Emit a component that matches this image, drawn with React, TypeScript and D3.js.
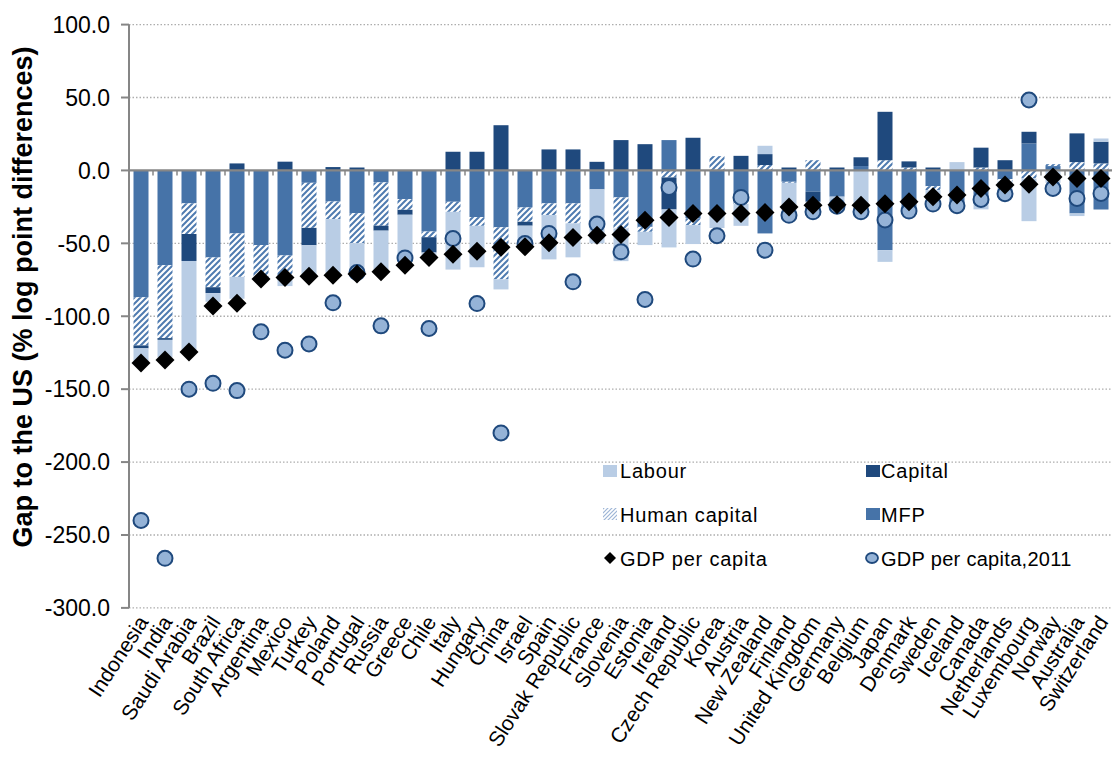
import React from "react";
import * as d3 from "d3";

const countries = ["Indonesia","India","Saudi Arabia","Brazil","South Africa","Argentina","Mexico","Turkey","Poland","Portugal","Russia","Greece","Chile","Italy","Hungary","China","Israel","Spain","Slovak Republic","France","Slovenia","Estonia","Ireland","Czech Republic","Korea","Austria","New Zealand","Finland","United Kingdom","Germany","Belgium","Japan","Denmark","Sweden","Iceland","Canada","Netherlands","Luxembourg","Norway","Australia","Switzerland"];

const labour = [-10,-12,-61,-6,-15,-1,-4,-21,-37.3,-19.5,-27,-31,-3,-39.6,-28.4,-6.9,-14,-30.4,-23.3,-37,-22.4,-9.1,-26,-13,-8.5,-15,5.7,-20,-9.3,-6,-31.8,-8,0,-7,5.7,-4.1,-9.5,-29.3,-8.5,-1.8,2.2];
const capital = [-2,-1.2,-18.5,-4,4.8,0,6,-11.9,2.3,2,-3.4,-3.4,-10.5,12.8,12.8,31,-2.7,14.4,14.4,5.9,20.8,18,-22,22.4,0,10,7.5,2,-6.9,2,6,33.2,4.2,2,0,13.6,7,8,0,19.7,14.9];
const humanCapital = [-33,-50,-21,-20.4,-29.8,-22,-17,-30.9,-12.1,-20.6,-29.7,-7.3,-3.9,-6.9,-6,-35.7,-9.8,-8,-13.7,0,-21.3,-3.4,-4.8,-4.6,9.8,-2,3.7,-0.7,7,0,0,7,2,-2.7,0,2,-1.5,-5.5,1.3,5.7,4.8];
const mfp = [-87,-65,-22.6,-59.7,-43.2,-51.2,-58.3,-8.5,-21.3,-29.3,-8.2,-19.7,-41.9,-21.5,-32,-39,-25.4,-22.6,-22.6,-13,-18.5,-38.7,20.8,-32.9,-31,-21,-43.2,-7.8,-14.6,-18,3,-54.7,-27.5,-10.8,-22.5,-22.6,-6,18.5,3,-29.5,-26.8];
const gdpPerCapita = [-132,-130,-124.5,-93,-91,-74.5,-73.5,-72.5,-71.8,-71,-69.5,-65,-59.7,-57.4,-55.5,-52.7,-52.4,-49.6,-46,-44.4,-43.9,-34.1,-32.2,-29.5,-29.5,-29.5,-28.8,-25,-23.8,-23.5,-23.8,-22.8,-21.5,-18,-16.9,-12.4,-10,-9.4,-4.5,-5.5,-5.5];
const gdpPerCapita2011 = [-240,-266,-150,-146,-151,-110.7,-123.3,-119,-90.8,-70,-106.6,-60,-108.4,-46.7,-91.3,-180,-50.1,-43.2,-76.4,-36.8,-55.8,-88.5,-11.7,-60.8,-44.8,-18.5,-54.7,-30.8,-28.4,-24.5,-28.4,-34,-27.9,-23.1,-24.2,-19.9,-16,48.3,-12.4,-19.2,-15.8];
const yTicks = [100,50,0,-50,-100,-150,-200,-250,-300];

const C_LAB = "#B9CDE5";
const C_CAP = "#1F497D";
const C_MFP = "#4673A8";
const C_HC = "#4F7BB0";
const FONT = "'Liberation Sans', Arial, sans-serif";

export default function App() {
  const W = 1112, H = 761;
  const x = d3.scaleBand().domain(countries).range([129, 1113]).paddingInner(0.375).paddingOuter(0.1875);
  const y = d3.scaleLinear().domain([-300, 100]).range([607.9, 24.6]);
  const step = x.step();
  const bw = x.bandwidth();

  type Seg = { key: string; c: string; y0: number; y1: number; kind: string };
  const bars = countries.map((name, i) => {
    const comps = [
      { kind: "mfp", v: mfp[i] },
      { kind: "hc", v: humanCapital[i] },
      { kind: "cap", v: capital[i] },
      { kind: "lab", v: labour[i] },
    ];
    let pos = 0, neg = 0;
    const segs: Seg[] = [];
    comps.forEach((c) => {
      if (c.v > 0) { segs.push({ key: name + c.kind, c: name, y0: pos, y1: pos + c.v, kind: c.kind }); pos += c.v; }
      else if (c.v < 0) { segs.push({ key: name + c.kind, c: name, y0: neg, y1: neg + c.v, kind: c.kind }); neg += c.v; }
    });
    return segs;
  }).flat();

  const fillFor = (k: string) => k === "mfp" ? C_MFP : k === "cap" ? C_CAP : k === "lab" ? C_LAB : "url(#hatch)";

  const diamond = (cx: number, cy: number, r: number) => `M${cx},${cy - r}L${cx + r},${cy}L${cx},${cy + r}L${cx - r},${cy}Z`;

  return (
    <svg width={W} height={H} style={{ position: "absolute", left: 0, top: 0, background: "#fff" }} fontFamily={FONT}>
      <defs>
        <pattern id="hatch" patternUnits="userSpaceOnUse" width="6" height="6">
          <rect width="6" height="6" fill="#fff" />
          <path d="M-1.5,1.5 l3,-3 M0,6 l6,-6 M4.5,7.5 l3,-3" stroke={C_HC} strokeWidth="2" />
        </pattern>
        <pattern id="hatchL" patternUnits="userSpaceOnUse" width="4" height="4">
          <rect width="4" height="4" fill="#fff" />
          <path d="M-1,1 l2,-2 M0,4 l4,-4 M3,5 l2,-2" stroke="#9DB5D6" strokeWidth="1.2" />
        </pattern>
      </defs>
      {/* gridlines */}
      {yTicks.filter((t) => t !== 0).map((t) => (
        <line key={"g" + t} x1={129} x2={1112} y1={y(t)} y2={y(t)} stroke="#ADADAD" strokeWidth={1.3} strokeDasharray="1.5,2" />
      ))}
      {/* bars */}
      {bars.map((s) => {
        const cx = x(s.c)!;
        const top = y(Math.max(s.y0, s.y1));
        const bot = y(Math.min(s.y0, s.y1));
        return <rect key={s.key} x={cx} y={top} width={bw} height={Math.max(0.8, bot - top)} fill={fillFor(s.kind)} />;
      })}
      {/* y axis */}
      <line x1={129} x2={129} y1={y(100)} y2={y(-300)} stroke="#868686" strokeWidth={2} />
      {yTicks.map((t) => (
        <g key={"t" + t}>
          <line x1={121} x2={129} y1={y(t)} y2={y(t)} stroke="#868686" strokeWidth={2} />
          <text x={110} y={y(t)} dy="0.36em" textAnchor="end" fontSize={23} fill="#000">{t.toFixed(1)}</text>
        </g>
      ))}
      {/* zero axis */}
      <line x1={129} x2={1112} y1={y(0)} y2={y(0)} stroke="#868686" strokeWidth={2.2} />
      {countries.map((c, i) => (
        <line key={"xt" + c} x1={129 + step * (i + 1)} x2={129 + step * (i + 1)} y1={y(0)} y2={y(0) + 5} stroke="#868686" strokeWidth={1.5} />
      ))}
      {/* GDP per capita 2011 circles */}
      {countries.map((c, i) => (
        <circle key={"c" + c} cx={x(c)! + bw / 2} cy={y(gdpPerCapita2011[i])} r={7.5} fill="#95B3D7" stroke="#1F497D" strokeWidth={2} />
      ))}
      {/* GDP per capita diamonds */}
      {countries.map((c, i) => (
        <path key={"d" + c} d={diamond(x(c)! + bw / 2, y(gdpPerCapita[i]), 9.5)} fill="#000" />
      ))}
      {/* x labels */}
      {countries.map((c) => (
        <text key={"l" + c} transform={`translate(${x(c)! + bw / 2 + 2},${618}) rotate(-57)`} textAnchor="end" dy="0.35em" fontSize={21} fill="#000">{c}</text>
      ))}
      {/* y title */}
      <text transform={`translate(32,${297}) rotate(-90)`} textAnchor="middle" fontSize={27} fontWeight="bold" fill="#000">Gap to the US (% log point differences)</text>
      {/* legend */}
      <g fontSize={20} fill="#000">
        <rect x={603} y={465} width={14} height={12} fill={C_LAB} />
        <text x={620} y={478} letterSpacing={0.8}>Labour</text>
        <rect x={866} y={465} width={14} height={12} fill={C_CAP} />
        <text x={881} y={478} letterSpacing={0.8}>Capital</text>
        <rect x={603} y={508} width={14} height={12} fill="url(#hatchL)" />
        <text x={620} y={522} letterSpacing={0.8}>Human capital</text>
        <rect x={866} y={508} width={14} height={12} fill={C_MFP} />
        <text x={881} y={522} letterSpacing={0.8}>MFP</text>
        <path d={diamond(610, 558, 6)} fill="#000" />
        <text x={620} y={566} letterSpacing={0.8}>GDP per capita</text>
        <ellipse cx={872} cy={558} rx={6} ry={5} fill="#95B3D7" stroke="#1F497D" strokeWidth={1.8} />
        <text x={881} y={566} letterSpacing={0.3}>GDP per capita,2011</text>
      </g>
    </svg>
  );
}
